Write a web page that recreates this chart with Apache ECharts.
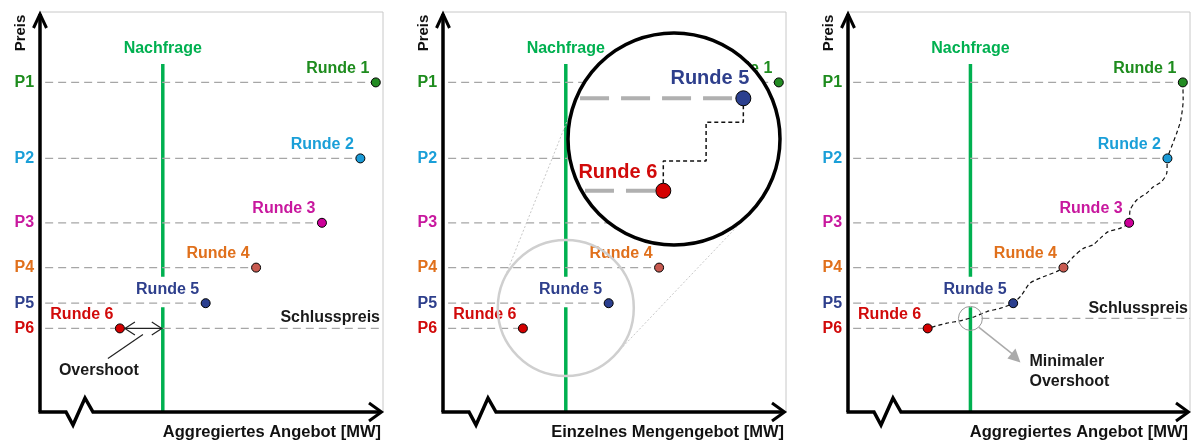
<!DOCTYPE html>
<html>
<head>
<meta charset="utf-8">
<script src="https://cdn.jsdelivr.net/npm/echarts@6/dist/echarts.min.js"></script>
<style>
html, body { margin: 0; padding: 0; background: #fff; }
#chart { width: 1191px; height: 441px; }
</style>
</head>
<body>
<div id="chart"></div>
<script>
// Runden, Preisniveaus (y 0..100) und Angebotsmengen (x 0..100)
var roundNames = ['Runde 1', 'Runde 2', 'Runde 3', 'Runde 4', 'Runde 5', 'Runde 6'];
var priceLabels = ['P1', 'P2', 'P3', 'P4', 'P5', 'P6'];
var priceLevels = [82.4, 63.4, 47.3, 36.1, 27.2, 20.9];
var offerQty = [97.9, 93.4, 82.2, 63.0, 48.3, 23.3];
var textColors = ['#1e8c1e', '#1a9fd8', '#c8189e', '#e0701c', '#2e3f8c', '#d10a0a'];
var markerColors = ['#228b22', '#1a9ad6', '#cc0099', '#c85a50', '#2b3f8f', '#d40000'];

// Nachfrage (senkrechte Linie) mit Lücke hinter "Runde 5"
var demandQty = 35.8;
var demandTop = 87;
var demandGap = [26.2, 33.8];
var lineStart = 1.5;

// Schlusspreis im dritten Bild
var finalPrice3 = 23.4;
var finalStart3 = 39;

// Verlauf der aggregierten Gebote (drittes Bild)
var pathX = [97.9, 98.0, 97.3, 96.1, 94.6, 93.4, 93.2, 91.7, 89.3, 87.3, 84.4, 82.5, 82.2,
  79.5, 76.1, 73.7, 71.7, 68.8, 65.9, 63.0, 61.0, 57.1, 53.2, 50.8, 48.3,
  44.4, 40.6, 36.6, 32.7, 28.9, 24.9, 23.3];
var pathY = [82.4, 78.0, 73.0, 69.7, 66.3, 63.4, 59.7, 57.6, 56.3, 54.7, 53.0, 50.5, 47.3,
  45.9, 45.1, 43.4, 41.8, 40.9, 38.8, 36.1, 35.1, 33.8, 32.2, 29.3, 27.2,
  25.9, 25.1, 23.7, 22.8, 22.2, 21.3, 20.9];

// Lupe im zweiten Bild
var insetNames = ['Runde 5', 'Runde 6'];
var insetColors = ['#2e3f8c', '#d10a0a'];
var insetMarkers = ['#2b3f8f', '#d40000'];
var insetX = [82.4, 45.0];
var insetY = [69.2, 25.6];
var insetStartX = [6.1, 8.4];
var stepX = [82.4, 82.4, 65.0, 65.0, 45.0, 45.0];
var stepY = [69.2, 57.9, 57.9, 39.6, 39.6, 25.6];

var FONT = '"Liberation Sans", Arial, sans-serif';
var chart = echarts.init(document.getElementById('chart'));

var grids = [
  { left: 40, top: 12, width: 343, height: 400 },
  { left: 443, top: 12, width: 343, height: 400 },
  { left: 848, top: 12, width: 342, height: 400 },
  { left: 567, top: 33, width: 214, height: 212 }
];
var xAxes = [], yAxes = [];
for (var g = 0; g < grids.length; g++) {
  xAxes.push({ type: 'value', gridIndex: g, min: 0, max: 100, show: false });
  yAxes.push({ type: 'value', gridIndex: g, min: 0, max: 100, show: false });
}

function lbl(text, color, pos, extra) {
  var l = { show: true, formatter: text, color: color, fontSize: 16, fontWeight: 'bold', fontFamily: FONT, position: pos };
  for (var k in extra) l[k] = extra[k];
  return l;
}

var series = [];
var dash = { color: '#a6a6a6', width: 1.3, type: [8, 5] };

for (var p = 0; p < 3; p++) {
  // Nachfrage
  series.push({
    type: 'line', xAxisIndex: p, yAxisIndex: p, z: 3,
    symbol: 'circle', symbolSize: 0,
    lineStyle: { color: '#00b050', width: 3.5 },
    data: [[demandQty, 0], [demandQty, demandGap[0]], [demandQty, '-'], [demandQty, demandGap[1]],
      { value: [demandQty, demandTop], label: lbl('Nachfrage', '#00b050', 'top', { distance: 7 }) }]
  });
  // Preisniveaus und Gebote
  for (var i = 0; i < roundNames.length; i++) {
    series.push({
      type: 'line', xAxisIndex: p, yAxisIndex: p, z: 4,
      lineStyle: dash,
      data: [
        { value: [lineStart, priceLevels[i]], symbol: 'circle', symbolSize: 0,
          label: lbl(priceLabels[i], textColors[i], 'left', { distance: 11 }) },
        { value: [offerQty[i], priceLevels[i]], symbol: 'circle', symbolSize: 9,
          itemStyle: { color: markerColors[i], borderColor: '#000', borderWidth: 1 },
          label: lbl(roundNames[i], textColors[i], 'left', { distance: 1.5, offset: [0, -14] }) }
      ]
    });
  }
}

// Schlusspreis Bild 1
series.push({
  type: 'line', xAxisIndex: 0, yAxisIndex: 0, z: 4, lineStyle: dash,
  symbol: 'circle', symbolSize: 0,
  data: [[demandQty, priceLevels[5]],
    { value: [100, priceLevels[5]], label: lbl('Schlusspreis', '#1a1a1a', 'top', { distance: 3, align: 'right', offset: [-3, 0] }) }]
});
// Schlusspreis Bild 3
series.push({
  type: 'line', xAxisIndex: 2, yAxisIndex: 2, z: 4, lineStyle: dash,
  symbol: 'circle', symbolSize: 0,
  data: [[finalStart3, finalPrice3],
    { value: [100, finalPrice3], label: lbl('Schlusspreis', '#1a1a1a', 'top', { distance: 2, align: 'right', offset: [-2, 0] }) }]
});
// Gebotsverlauf Bild 3
series.push({
  type: 'line', xAxisIndex: 2, yAxisIndex: 2, z: 3, showSymbol: false, smooth: 0.25,
  lineStyle: { color: '#111', width: 1.2, type: [4, 3] },
  data: pathX.map(function (x, k) { return [x, pathY[k]]; })
});

// Lupe
for (var j = 0; j < insetNames.length; j++) {
  series.push({
    type: 'line', xAxisIndex: 3, yAxisIndex: 3, z: 60, symbol: 'none',
    lineStyle: { color: '#b0b0b0', width: 4, type: [29, 12] },
    data: [[insetStartX[j], insetY[j]], [insetX[j], insetY[j]]]
  });
}
series.push({
  type: 'line', xAxisIndex: 3, yAxisIndex: 3, z: 61, symbol: 'none',
  lineStyle: { color: '#111', width: 1.5, type: [4, 3] },
  data: stepX.map(function (x, k) { return [x, stepY[k]]; })
});
series.push({
  type: 'scatter', xAxisIndex: 3, yAxisIndex: 3, z: 62, symbolSize: 15,
  itemStyle: { opacity: 1 },
  data: insetNames.map(function (n, k) {
    return {
      value: [insetX[k], insetY[k]],
      itemStyle: { color: insetMarkers[k], borderColor: '#000', borderWidth: 1, opacity: 1 },
      label: { show: true, formatter: n, position: 'top', align: 'right', distance: k === 0 ? 2 : 0,
        offset: k === 0 ? [6, 0] : [-6, 0], color: insetColors[k], opacity: 1,
        fontSize: 20, fontWeight: 'bold', fontFamily: FONT }
    };
  })
});

chart.setOption({
  animation: false,
  backgroundColor: '#fff',
  grid: grids,
  xAxis: xAxes,
  yAxis: yAxes,
  series: series
});

function px(g, x, y) { return chart.convertToPixel({ gridIndex: g }, [x, y]); }
function pl(points, color, w, z, extra) {
  var s = { stroke: color, lineWidth: w, fill: null };
  for (var k in extra) s[k] = extra[k];
  return { type: 'polyline', z: z, shape: { points: points }, style: s, silent: true };
}
function txt(x, y, text, align, size, color, extra) {
  var el = { type: 'text', x: x, y: y, z: 30, silent: true,
    style: { text: text, align: align, verticalAlign: 'middle', fill: color,
      font: 'bold ' + size + 'px ' + FONT } };
  for (var k in extra) el[k] = extra[k];
  return el;
}

var graphics = [];
var titles = ['Aggregiertes Angebot [MW]', 'Einzelnes Mengengebot [MW]', 'Aggregiertes Angebot [MW]'];
for (var q = 0; q < 3; q++) {
  var o = px(q, 0, 0), e = px(q, 100, 100);
  var ox = o[0], oy = o[1], ex = e[0], ey = e[1];
  graphics.push(pl([[ox, ey], [ex, ey], [ex, oy]], '#c8c8c8', 1, 1));
  graphics.push(pl([[ox, oy], [ox, ey + 2]], '#000', 3.5, 30));
  graphics.push(pl([[ox - 6.5, ey + 16], [ox, ey + 2], [ox + 6.5, ey + 16]], '#000', 3, 30));
  graphics.push(pl([[ox - 1.5, oy], [ox + 26, oy], [ox + 33, oy + 13], [ox + 45, oy - 14], [ox + 53, oy], [ex - 2, oy]], '#000', 3.5, 30));
  graphics.push(pl([[ex - 14, oy - 9], [ex - 1.5, oy], [ex - 14, oy + 9]], '#000', 3, 30));
  graphics.push(txt(ox - 19, ey + 21, 'Preis', 'center', 15, '#111', { rotation: Math.PI / 2 }));
  graphics.push(txt(ex - 2, oy + 20, titles[q], 'right', 16.5, '#111'));
}

// Overshoot-Pfeil Bild 1
var r6 = px(0, offerQty[5], priceLevels[5]);
var dm = px(0, demandQty, priceLevels[5]);
graphics.push(pl([[r6[0] + 5, r6[1]], [dm[0] - 1, dm[1]]], '#222', 1.2, 20));
graphics.push(pl([[r6[0] + 15, r6[1] - 6.5], [r6[0] + 5, r6[1]], [r6[0] + 15, r6[1] + 6.5]], '#222', 1.2, 20));
graphics.push(pl([[dm[0] - 11, dm[1] - 6.5], [dm[0] - 1, dm[1]], [dm[0] - 11, dm[1] + 6.5]], '#222', 1.2, 20));
graphics.push(pl([[r6[0] + 23, r6[1] + 6], [r6[0] - 12, r6[1] + 30]], '#222', 1.2, 20));
graphics.push(txt(r6[0] - 21, r6[1] + 42.5, 'Overshoot', 'center', 16, '#1a1a1a'));

// Lupe Bild 2
var c1 = px(3, 50, 50); var R1 = 106;
var c2 = px(1, demandQty, 26); var R2 = 68;
var dx = c2[0] - c1[0], dy = c2[1] - c1[1], D = Math.sqrt(dx * dx + dy * dy);
var th = Math.atan2(dy, dx), ph = Math.acos((R1 - R2) / D);
[th + ph, th - ph].forEach(function (a) {
  var nx = Math.cos(a), ny = Math.sin(a);
  graphics.push(pl([[c1[0] + R1 * nx, c1[1] + R1 * ny], [c2[0] + R2 * nx, c2[1] + R2 * ny]], '#c8c8c8', 1, 40, { lineDash: [2, 2] }));
});
graphics.push({ type: 'circle', z: 41, silent: true, shape: { cx: c2[0], cy: c2[1], r: R2 },
  style: { stroke: '#cfcfcf', lineWidth: 2.5, fill: null } });
graphics.push({ type: 'circle', z: 50, silent: true, shape: { cx: c1[0], cy: c1[1], r: R1 },
  style: { stroke: '#000', lineWidth: 3.5, fill: '#fff' } });

// Minimaler Overshoot Bild 3
var mc = px(2, demandQty, finalPrice3);
graphics.push({ type: 'circle', z: 20, silent: true, shape: { cx: mc[0], cy: mc[1], r: 12 },
  style: { stroke: '#999', lineWidth: 1, fill: null } });
graphics.push(pl([[mc[0] + 8.5, mc[1] + 9], [mc[0] + 45, mc[1] + 38]], '#aaa', 1.5, 20));
graphics.push({ type: 'polygon', z: 20, silent: true,
  shape: { points: [[mc[0] + 50, mc[1] + 44], [mc[0] + 37, mc[1] + 40], [mc[0] + 45, mc[1] + 30]] },
  style: { fill: '#aaa' } });
graphics.push(txt(mc[0] + 59, mc[1] + 53, 'Minimaler\nOvershoot', 'left', 16, '#1a1a1a', {}));
graphics[graphics.length - 1].style.lineHeight = 20;

chart.setOption({ graphic: graphics });
</script>
</body>
</html>
